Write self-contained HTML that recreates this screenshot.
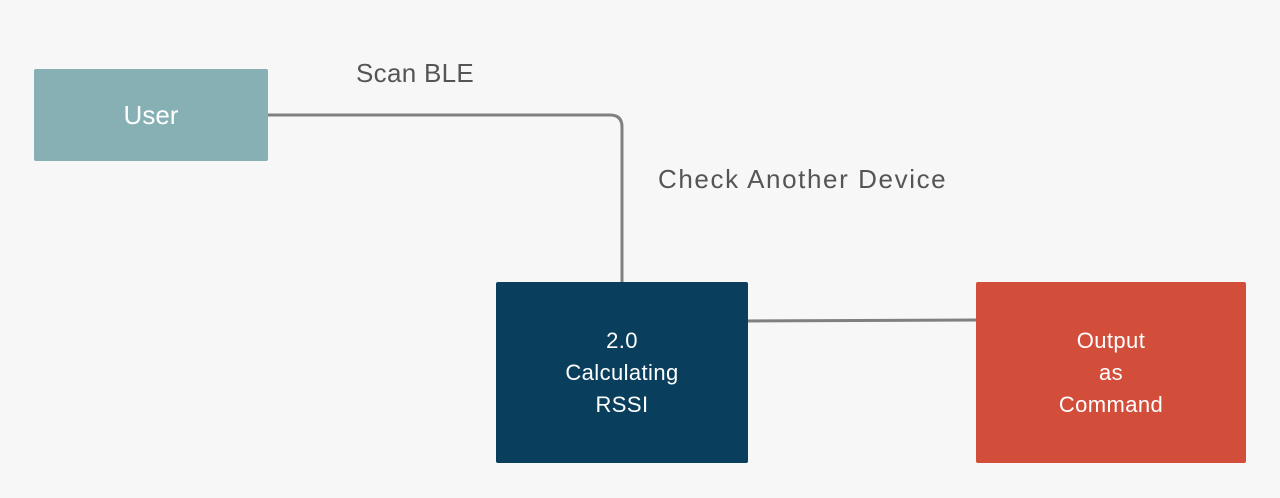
<!DOCTYPE html>
<html><head><style>
html,body{margin:0;padding:0;}
body{width:1280px;height:498px;background:#f7f7f7;position:relative;overflow:hidden;font-family:"Liberation Sans",sans-serif;}
.box{position:absolute;display:flex;align-items:center;justify-content:center;text-align:center;color:#fff;border-radius:2px;}
.lbl{position:absolute;color:#555;font-size:26px;}
</style></head><body>
<svg width="1280" height="498" style="position:absolute;left:0;top:0">
<path d="M266 115 H610 Q622 115 622 127 V285" fill="none" stroke="#808080" stroke-width="3"/>
<path d="M746 321 L978 320" fill="none" stroke="#808080" stroke-width="3"/>
</svg>
<div class="box" style="left:34px;top:69px;width:234px;height:92px;background:#87b0b5;font-size:26px;">User</div>
<div class="box" style="left:496px;top:282px;width:252px;height:181px;background:#093f5d;font-size:22px;line-height:32px;letter-spacing:0.4px;">2.0<br>Calculating<br>RSSI</div>
<div class="box" style="left:976px;top:282px;width:270px;height:181px;background:#d24e3a;font-size:22px;line-height:32px;letter-spacing:0.4px;">Output<br>as<br>Command</div>
<div class="lbl" style="left:356px;top:58px;letter-spacing:0.3px;">Scan BLE</div>
<div class="lbl" style="left:658px;top:164px;letter-spacing:1.6px;">Check Another Device</div>
</body></html>
